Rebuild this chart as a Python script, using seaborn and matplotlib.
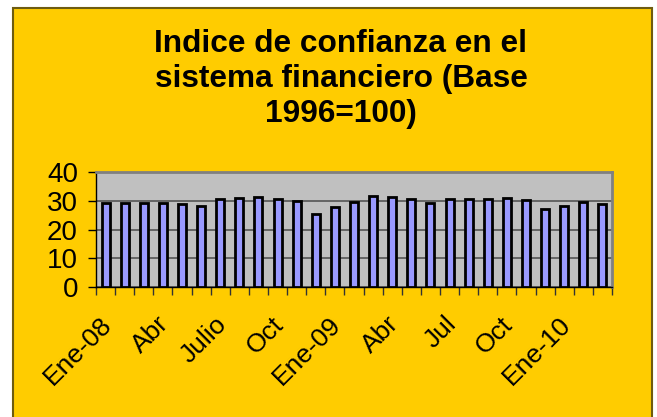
import pandas as pd
import seaborn as sns
import matplotlib.pyplot as plt
from matplotlib.patches import Rectangle
from matplotlib.transforms import ScaledTranslation

# monthly index, Jan 2008 - Mar 2010
meses = ["Ene-08", "Feb-08", "Mar-08", "Abr-08", "May-08", "Jun-08",
         "Jul-08", "Ago-08", "Sep-08", "Oct-08", "Nov-08", "Dic-08",
         "Ene-09", "Feb-09", "Mar-09", "Abr-09", "May-09", "Jun-09",
         "Jul-09", "Ago-09", "Sep-09", "Oct-09", "Nov-09", "Dic-09",
         "Ene-10", "Feb-10", "Mar-10"]
indice = [29.3, 29.2, 29.3, 29.3, 29.0, 28.3, 30.5, 30.8, 31.4, 30.6,
          30.0, 25.3, 28.0, 29.5, 31.6, 31.2, 30.5, 29.2, 30.5, 30.7,
          30.7, 30.9, 30.2, 27.3, 28.3, 29.5, 29.0]
etiquetas = ["Ene-08", "Abr", "Julio", "Oct", "Ene-09", "Abr", "Jul", "Oct", "Ene-10"]
yticks = [0, 10, 20, 30, 40]

df = pd.DataFrame({"mes": meses, "indice": indice})

sns.set_style("white")
plt.rcParams['font.family'] = ['Liberation Sans', 'DejaVu Sans']
plt.rcParams['text.color'] = 'black'
plt.rcParams['xtick.color'] = 'black'
plt.rcParams['ytick.color'] = 'black'

fig = plt.figure(figsize=(6.57, 4.17), dpi=100)
fig.patch.set_facecolor("white")

# yellow chart area with dark border
fig.patches.append(Rectangle((13 / 657, -0.01), 639 / 657, 1 - 8 / 417 + 0.01,
                             transform=fig.transFigure, facecolor="#FFCC00",
                             edgecolor="#6E5C10", linewidth=1.5, zorder=-5))

ax = fig.add_axes([96 / 657, 1 - 287 / 417, 516 / 657, 115 / 417])
ax.set_zorder(2)
ax.set_facecolor("#C0C0C0")

sns.barplot(data=df, x="mes", y="indice", order=meses, color="#9999FF",
            saturation=1, width=0.42, edgecolor="black", linewidth=2,
            ax=ax, zorder=3)

ax.set_ylim(0, 40)
ax.set_xlim(-0.5, len(meses) - 0.5)
ax.set_yticks(yticks)
ax.set_yticklabels([str(v) for v in yticks], fontsize=20)
ax.yaxis.grid(True, color="#555555", linewidth=1.2, zorder=1)
ax.set_axisbelow(True)

# tick marks on category boundaries, labels every 3 months
ax.set_xticks([i - 0.5 for i in range(len(meses) + 1)])
ax.set_xticklabels([])
ax.set_xticks(list(range(0, len(meses), 3)), minor=True)
ax.set_xticklabels(etiquetas, minor=True, fontsize=19, rotation=45,
                   ha="right", va="top", rotation_mode="anchor")
ax.tick_params(axis="x", which="major", length=6, width=1, color="#333333",
               bottom=True, direction="out")
ax.tick_params(axis="x", which="minor", length=0, pad=18)
ax.tick_params(axis="y", length=6, width=1, color="black", left=True,
               direction="out", pad=7)
off = ScaledTranslation(-6 / 100, 0, fig.dpi_scale_trans)
for lab in ax.get_xticklabels(minor=True):
    lab.set_transform(lab.get_transform() + off)

ax.set_xlabel("")
ax.set_ylabel("")
for s in ["top", "right"]:
    ax.spines[s].set_color("#808080")
    ax.spines[s].set_linewidth(2)
for s in ["left", "bottom"]:
    ax.spines[s].set_color("black")
    ax.spines[s].set_linewidth(1)

fig.text(341 / 657, 1 - 79 / 417,
         "Indice de confianza en el\nsistema financiero (Base\n1996=100)",
         ha="center", va="center", fontsize=22.8, fontweight="bold",
         linespacing=1.2, color="black")

fig.savefig("out.png", dpi=100, facecolor=fig.get_facecolor())
